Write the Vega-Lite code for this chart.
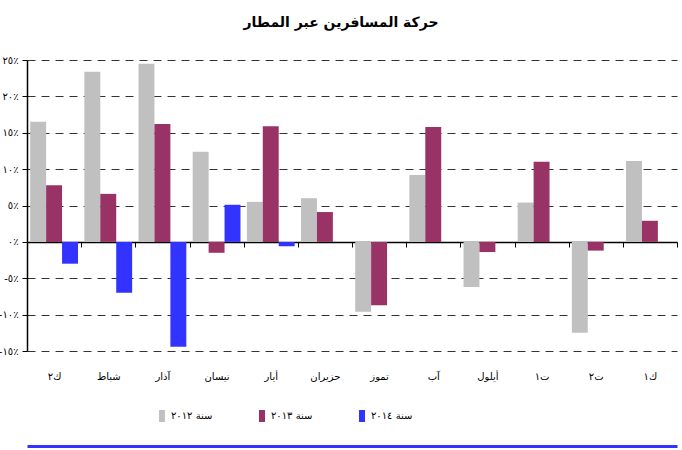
{
  "$schema": "https://vega.github.io/schema/vega-lite/v6.json",
  "width": 650,
  "height": 291,
  "autosize": {"type": "none"},
  "padding": {"left": 27, "top": 60, "right": 5, "bottom": 99},
  "title": {
    "text": "حركة المسافرين عبر المطار",
    "font": "DejaVu Sans",
    "fontSize": 14,
    "fontWeight": "bold",
    "color": "#000000",
    "anchor": "middle",
    "offset": 25,
    "dx": -11
  },
  "config": {
    "view": {"stroke": null},
    "legend": {"labelFont": "DejaVu Sans"},
    "axis": {"labelFont": "DejaVu Sans"}
  },
  "data": {
    "values": [
      {"month": "ك٢", "year": "سنة ٢٠١٢", "value": 16.5},
      {"month": "ك٢", "year": "سنة ٢٠١٣", "value": 7.8},
      {"month": "ك٢", "year": "سنة ٢٠١٤", "value": -3.0},
      {"month": "شباط", "year": "سنة ٢٠١٢", "value": 23.4},
      {"month": "شباط", "year": "سنة ٢٠١٣", "value": 6.6},
      {"month": "شباط", "year": "سنة ٢٠١٤", "value": -7.0},
      {"month": "آذار", "year": "سنة ٢٠١٢", "value": 24.5},
      {"month": "آذار", "year": "سنة ٢٠١٣", "value": 16.2},
      {"month": "آذار", "year": "سنة ٢٠١٤", "value": -14.4},
      {"month": "نيسان", "year": "سنة ٢٠١٢", "value": 12.4},
      {"month": "نيسان", "year": "سنة ٢٠١٣", "value": -1.5},
      {"month": "نيسان", "year": "سنة ٢٠١٤", "value": 5.1},
      {"month": "أيار", "year": "سنة ٢٠١٢", "value": 5.5},
      {"month": "أيار", "year": "سنة ٢٠١٣", "value": 15.9},
      {"month": "أيار", "year": "سنة ٢٠١٤", "value": -0.6},
      {"month": "حزيران", "year": "سنة ٢٠١٢", "value": 6.0},
      {"month": "حزيران", "year": "سنة ٢٠١٣", "value": 4.1},
      {"month": "تموز", "year": "سنة ٢٠١٢", "value": -9.6},
      {"month": "تموز", "year": "سنة ٢٠١٣", "value": -8.7},
      {"month": "آب", "year": "سنة ٢٠١٢", "value": 9.2},
      {"month": "آب", "year": "سنة ٢٠١٣", "value": 15.8},
      {"month": "أيلول", "year": "سنة ٢٠١٢", "value": -6.2},
      {"month": "أيلول", "year": "سنة ٢٠١٣", "value": -1.4},
      {"month": "ت١", "year": "سنة ٢٠١٢", "value": 5.4},
      {"month": "ت١", "year": "سنة ٢٠١٣", "value": 11.0},
      {"month": "ت٢", "year": "سنة ٢٠١٢", "value": -12.5},
      {"month": "ت٢", "year": "سنة ٢٠١٣", "value": -1.2},
      {"month": "ك١", "year": "سنة ٢٠١٢", "value": 11.1},
      {"month": "ك١", "year": "سنة ٢٠١٣", "value": 2.9}
    ]
  },
  "layer": [
    {
      "mark": {"type": "bar"},
      "encoding": {
        "x": {
          "field": "month",
          "type": "nominal",
          "sort": ["ك٢", "شباط", "آذار", "نيسان", "أيار", "حزيران", "تموز", "آب", "أيلول", "ت١", "ت٢", "ك١"],
          "scale": {"paddingInner": 0, "paddingOuter": 0},
          "axis": {
            "orient": "bottom",
            "offset": -109,
            "title": null,
            "domainColor": "#000000",
            "domainWidth": 1.5,
            "tickColor": "#000000",
            "tickSize": 5,
            "tickWidth": 1,
            "tickBand": "extent",
            "labelAngle": 0,
            "labelPadding": 124,
            "labelFontSize": 10,
            "labelColor": "#000000",
            "grid": false
          }
        },
        "xOffset": {
          "field": "year",
          "type": "nominal",
          "sort": ["سنة ٢٠١٢", "سنة ٢٠١٣", "سنة ٢٠١٤"],
          "scale": {"paddingOuter": 0.2, "paddingInner": 0}
        },
        "y": {
          "field": "value",
          "type": "quantitative",
          "scale": {"domain": [-15, 25], "nice": false, "zero": false},
          "axis": {
            "title": null,
            "values": [-15, -10, -5, 0, 5, 10, 15, 20, 25],
            "labelExpr": "datum.value == 25 ? '٢٥٪' : datum.value == 20 ? '٢٠٪' : datum.value == 15 ? '١٥٪' : datum.value == 10 ? '١٠٪' : datum.value == 5 ? '٥٪' : datum.value == 0 ? '٠٪' : datum.value == -5 ? '-٥٪' : datum.value == -10 ? '-١٠٪' : '-١٥٪'",
            "labelFontSize": 10,
            "labelColor": "#000000",
            "labelPadding": 4,
            "domainColor": "#000000",
            "domainWidth": 1.5,
            "tickColor": "#000000",
            "tickSize": 5,
            "grid": true,
            "gridColor": "#000000",
            "gridOpacity": 0.8,
            "gridDash": [8, 6],
            "gridWidth": 1
          }
        },
        "color": {
          "field": "year",
          "type": "nominal",
          "sort": ["سنة ٢٠١٢", "سنة ٢٠١٣", "سنة ٢٠١٤"],
          "scale": {
            "domain": ["سنة ٢٠١٢", "سنة ٢٠١٣", "سنة ٢٠١٤"],
            "range": ["#C0C0C0", "#993366", "#3333FF"]
          },
          "legend": {
            "title": null,
            "orient": "none",
            "direction": "horizontal",
            "columns": 3,
            "legendX": 129,
            "legendY": 350,
            "gridAlign": "all",
            "columnPadding": 43,
            "symbolType": "M-0.5,-1H0.5V1H-0.5Z",
            "symbolSize": 144,
            "symbolStrokeWidth": 0,
            "labelFontSize": 10,
            "labelColor": "#000000",
            "labelOffset": 3
          }
        }
      }
    },
    {
      "mark": {"type": "rule", "opacity": 0},
      "encoding": {
        "x": {
          "field": "month",
          "type": "nominal",
          "sort": ["ك٢", "شباط", "آذار", "نيسان", "أيار", "حزيران", "تموز", "آب", "أيلول", "ت١", "ت٢", "ك١"],
          "axis": {
            "orient": "bottom",
            "offset": 95,
            "title": null,
            "domainColor": "#3333FF",
            "domainWidth": 3,
            "labels": false,
            "ticks": false,
            "grid": false
          }
        }
      }
    }
  ],
  "resolve": {"axis": {"x": "independent"}}
}
